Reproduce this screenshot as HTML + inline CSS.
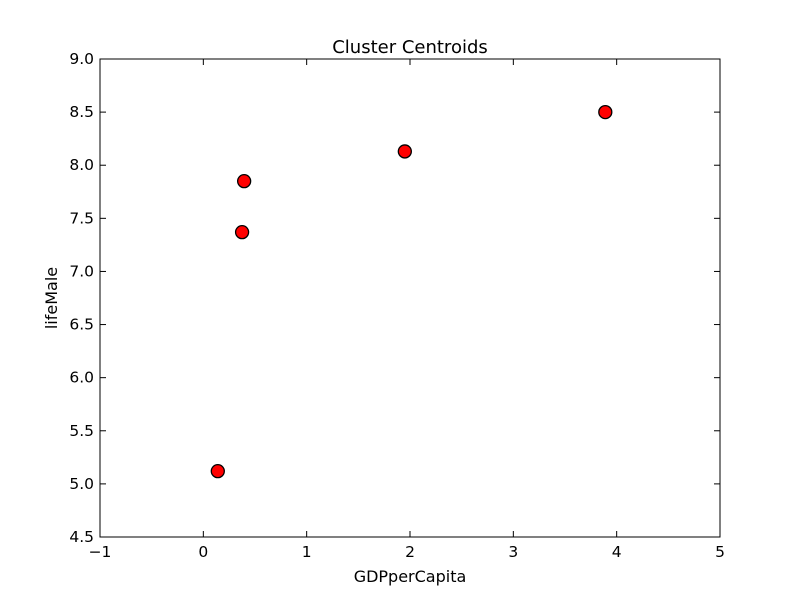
<!DOCTYPE html>
<html><head><meta charset="utf-8"><style>
body{margin:0;background:#fff;}
svg text{font-family:"DejaVu Sans","Liberation Sans",sans-serif;}
</style></head><body>
<svg id="chart" width="800" height="597" viewBox="0 0 800 597">
<rect width="800" height="597" fill="#fff"/>
<g id="ticks"></g>
<g id="points"></g>
<rect x="100" y="59" width="620" height="478" fill="none" stroke="#000" stroke-width="1"/>
<text x="410" y="53" text-anchor="middle" font-size="18">Cluster Centroids</text>
<text x="410" y="582" text-anchor="middle" font-size="16">GDPperCapita</text>
<text x="57" y="298" text-anchor="middle" font-size="16" transform="rotate(-90 57 298)">lifeMale</text>
</svg>
<script>
const xTicks=[-1,0,1,2,3,4,5];
const yTicks=[4.5,5.0,5.5,6.0,6.5,7.0,7.5,8.0,8.5,9.0];
const xValues=[0.14,0.375,0.395,1.95,3.89];
const yValues=[5.12,7.37,7.85,8.13,8.50];
const L=100,R=720,T=59,B=537;
const sx=v=>L+(v+1)/6*(R-L);
const sy=v=>B-(v-4.5)/4.5*(B-T);
const NS="http://www.w3.org/2000/svg";
const tg=document.getElementById('ticks');
function mk(tag,attrs,parent){const e=document.createElementNS(NS,tag);for(const k in attrs)e.setAttribute(k,attrs[k]);parent.appendChild(e);return e;}
xTicks.forEach(v=>{const x=sx(v);
 mk('line',{x1:x,x2:x,y1:B,y2:B-6,stroke:'#000'},tg);
 mk('line',{x1:x,x2:x,y1:T,y2:T+6,stroke:'#000'},tg);
 const t=mk('text',{x:x,y:B+20,'text-anchor':'middle','font-size':15.5},tg);
 t.textContent=v<0?'\u2212'+Math.abs(v):String(v);
 
 
});
yTicks.forEach(v=>{const y=sy(v);
 mk('line',{x1:L,x2:L+6,y1:y,y2:y,stroke:'#000'},tg);
 mk('line',{x1:R,x2:R-6,y1:y,y2:y,stroke:'#000'},tg);
 const t=mk('text',{x:L-6,y:y+5,'text-anchor':'end','font-size':15.5},tg);
 t.textContent=v.toFixed(1);
 
 
});
const pg=document.getElementById('points');
xValues.forEach((v,i)=>{
 const c=mk('circle',{cx:sx(v),cy:sy(yValues[i]),r:6.5,fill:'#ff0000',stroke:'#000','stroke-width':1.3},pg);
 
 
});
</script>
</body></html>
